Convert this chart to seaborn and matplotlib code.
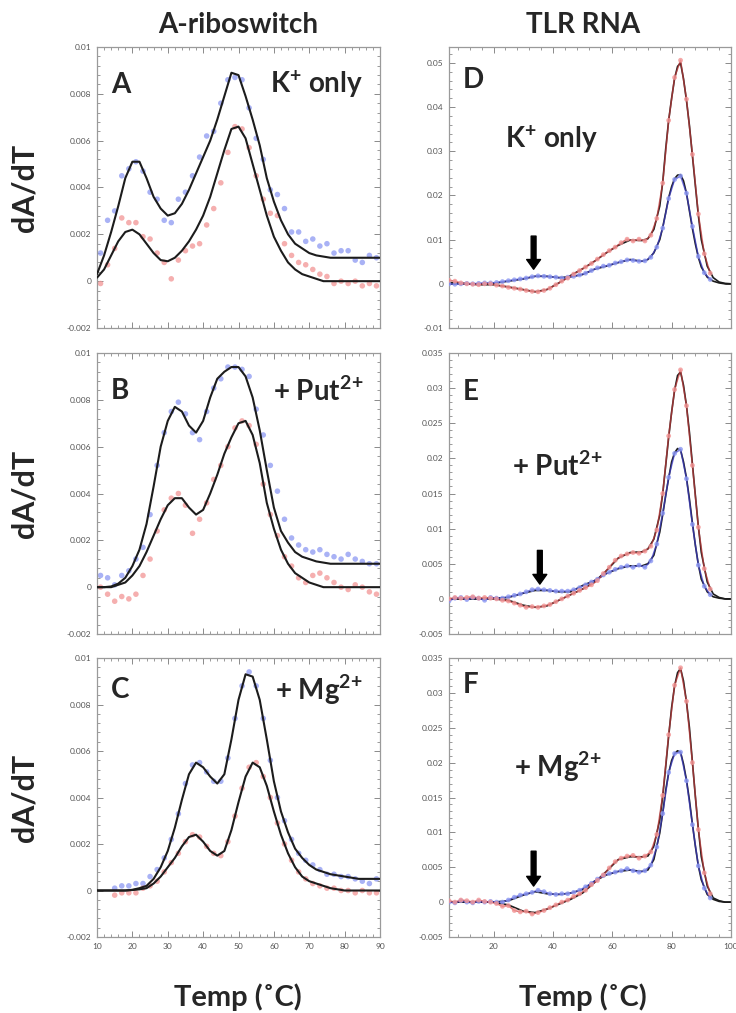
import numpy as np
import pandas as pd
import matplotlib
matplotlib.use("Agg")
import matplotlib.pyplot as plt
import seaborn as sns
from matplotlib.ticker import MultipleLocator, AutoMinorLocator, FuncFormatter

nan = np.nan

# ---------------- left column: A-riboswitch (temperature grids) ----------------
T_FIT_L = list(range(10, 91, 2))
T_DAT_L = list(range(11, 90, 2))

A_fit_blue = [0.0003, 0.0011, 0.0021, 0.0032, 0.0044, 0.0051, 0.0051, 0.0044, 0.0036, 0.0031,
              0.0028, 0.0029, 0.0033, 0.0039, 0.0046, 0.0053, 0.0060, 0.0069, 0.0079, 0.0089,
              0.0088, 0.0079, 0.0069, 0.0058, 0.0044, 0.0034, 0.0026, 0.0020, 0.0016, 0.0014,
              0.0012, 0.0011, 0.00105, 0.0010, 0.0010, 0.0010, 0.0010, 0.0010, 0.0010, 0.0010, 0.0010]
A_fit_red = [0.00015, 0.0005, 0.0011, 0.0017, 0.0021, 0.0022, 0.0020, 0.0016, 0.0012, 0.0009,
             0.00085, 0.0010, 0.0013, 0.0017, 0.0022, 0.0028, 0.0036, 0.0046, 0.0056, 0.0065,
             0.0066, 0.0061, 0.0050, 0.0039, 0.0028, 0.0019, 0.0013, 0.0008, 0.0005, 0.0003,
             0.0002, 0.0001, 0, 0, 0, 0, 0, 0, 0, 0, 0]
A_dat_blue = [0.0012, 0.0026, 0.0030, 0.0045, 0.0048, 0.0051, 0.0047, 0.0038, 0.0035, 0.0026,
              0.0025, 0.0035, 0.0038, 0.0045, 0.0053, 0.0062, 0.0064, 0.0076, 0.0086, 0.0087,
              0.0086, 0.0074, 0.0061, 0.0052, 0.0039, 0.0037, 0.0031, 0.0021, 0.0021, 0.0017,
              0.0018, 0.0015, 0.0016, 0.0012, 0.0013, 0.0013, 0.0009, 0.0008, 0.0011, 0.0010]
A_dat_red = [-0.0001, 0.0007, 0.0014, 0.0027, 0.0025, 0.0025, 0.0019, 0.0018, 0.0012, 0.0008,
             0.0001, 0.0009, 0.0013, 0.0015, 0.0016, 0.0024, 0.0031, 0.0042, 0.0055, 0.0066,
             0.0065, 0.0057, 0.0045, 0.0035, 0.0029, 0.0028, 0.0016, 0.0011, 0.0008, 0.0007,
             0.0005, 0.0003, 0.0002, -0.0001, 0.0, -0.0001, 0.0, -0.0002, -0.0001, -0.0002]

B_fit_blue = [0, 0, 0.00003, 0.00015, 0.0004, 0.0009, 0.0016, 0.0027, 0.0043, 0.0060,
              0.0071, 0.0077, 0.0075, 0.0069, 0.0066, 0.0071, 0.0081, 0.0089, 0.0092, 0.0094,
              0.0094, 0.0090, 0.0081, 0.0067, 0.0050, 0.0034, 0.0024, 0.0019, 0.0015, 0.0013,
              0.0012, 0.0011, 0.00105, 0.0010, 0.0010, 0.0010, 0.0010, 0.0010, 0.0010, 0.0010, 0.0010]
B_fit_red = [0, 0, 0, 0.0001, 0.0002, 0.0005, 0.0009, 0.0015, 0.0022, 0.0029,
             0.0035, 0.0038, 0.0038, 0.0034, 0.0031, 0.0033, 0.0040, 0.0048, 0.0057, 0.0064,
             0.0070, 0.0071, 0.0065, 0.0053, 0.0036, 0.0025, 0.0016, 0.0010, 0.0006, 0.0004,
             0.0002, 0.0001, 0, 0, 0, 0, 0, 0, 0, 0, 0]
B_dat_blue = [0.0005, 0.0004, 0.0001, 0.0005, 0.0007, 0.0012, 0.0017, 0.0031, 0.0052, 0.0066,
              0.0075, 0.0079, 0.0074, 0.0066, 0.0063, 0.0075, 0.0085, 0.0089, 0.0094, 0.0094,
              0.0093, 0.0090, 0.0076, 0.0065, 0.0052, 0.0041, 0.0029, 0.0021, 0.0018, 0.0016,
              0.0015, 0.0016, 0.0014, 0.0013, 0.0012, 0.0014, 0.0012, 0.0011, 0.0010, 0.0010]
B_dat_red = [0.0, -0.0003, -0.0006, -0.0004, -0.0005, -0.0003, 0.0005, 0.0012, 0.0024, 0.0033,
             0.0038, 0.0040, 0.0035, 0.0023, 0.0029, 0.0036, 0.0046, 0.0052, 0.0060, 0.0068,
             0.0071, 0.0069, 0.0061, 0.0044, 0.0031, 0.0022, 0.0013, 0.0009, 0.0004, 0.0002,
             0.0005, 0.0006, 0.0004, 0.0002, 0.0, -0.0001, 0.0001, 0.0, -0.0002, -0.0003]

C_fit_blue = [0, 0, 0, 0, 0, 0.00003, 0.0001, 0.0002, 0.0005, 0.0010,
              0.0017, 0.0027, 0.0039, 0.0050, 0.0055, 0.0053, 0.0049, 0.0046, 0.0050, 0.0065,
              0.0082, 0.0093, 0.0092, 0.0082, 0.0065, 0.0047, 0.0034, 0.0025, 0.0018, 0.0014,
              0.0011, 0.0009, 0.0008, 0.0007, 0.00065, 0.0006, 0.00055, 0.0005, 0.0005, 0.0005, 0.0005]
C_fit_red = [0, 0, 0, 0, 0, 0.00002, 0.00005, 0.0001, 0.0003, 0.0006,
             0.0010, 0.0014, 0.0019, 0.0023, 0.0024, 0.0021, 0.0017, 0.0015, 0.0017, 0.0026,
             0.0038, 0.0049, 0.0055, 0.0053, 0.0045, 0.0034, 0.0024, 0.0016, 0.0010, 0.0006,
             0.0004, 0.0003, 0.0002, 0.0001, 0.00005, 0, 0, 0, 0, 0, 0]
C_dat_blue = [nan, nan, 0.0001, 0.0002, 0.0002, 0.0003, 0.0003, 0.0006, 0.0009, 0.0014,
              0.0022, 0.0033, 0.0046, 0.0054, 0.0055, 0.0051, 0.0047, 0.0047, 0.0057, 0.0074,
              0.0088, 0.0094, 0.0088, 0.0074, 0.0056, 0.0040, 0.0030, 0.0022, 0.0016, 0.0013,
              0.0011, 0.0009, 0.0007, 0.0007, 0.0006, 0.0006, 0.0005, 0.0004, 0.0003, 0.0005]
C_dat_red = [nan, nan, -0.0002, -0.0001, -0.0001, -0.0001, 0.0001, 0.0002, 0.0004, 0.0008,
             0.0012, 0.0016, 0.0021, 0.0024, 0.0023, 0.0019, 0.0016, 0.0015, 0.0021, 0.0032,
             0.0044, 0.0053, 0.0055, 0.0049, 0.0040, 0.0029, 0.0020, 0.0013, 0.0008, 0.0005,
             0.0003, 0.0002, 0.0001, 0.0001, 0.0, 0.0, -0.0001, 0.0, -0.0001, -0.0001]

# ---------------- right column: TLR RNA ----------------
T_FIT_R = [5, 10, 15, 20, 25, 30, 34, 38, 42, 46, 50, 54, 58, 62, 66, 70, 72, 74, 76,
           77, 78, 79, 80, 81, 82, 83, 84, 85, 86, 87, 88, 89, 90, 92, 94, 96, 98, 100]
T_DAT_R = list(range(5, 94, 2))

D_fit_red = [0.0003, 0.0001, -0.0002, -0.0002, -0.0007, -0.0013, -0.0018, -0.0013, 0.0002, 0.0019,
             0.0034, 0.0051, 0.0070, 0.0087, 0.0099, 0.0098, 0.0102, 0.0123, 0.0176,
             0.0230, 0.0305, 0.0370, 0.0420, 0.0465, 0.0492, 0.0500, 0.0464, 0.0415, 0.0358,
             0.0290, 0.0222, 0.0155, 0.0100, 0.0040, 0.0014, 0.0004, 0.0001, 0.0]
D_fit_blue = [0.0, 0.0, 0.0, 0.0001, 0.0006, 0.0011, 0.0017, 0.0017, 0.0014, 0.0016,
              0.0021, 0.0033, 0.0040, 0.0048, 0.0055, 0.0051, 0.0055, 0.0070, 0.0100,
              0.0128, 0.0161, 0.0195, 0.0220, 0.0238, 0.0246, 0.0247, 0.0233, 0.0205, 0.0165,
              0.0125, 0.0090, 0.0060, 0.0038, 0.0015, 0.0006, 0.0002, 0.0, 0.0]
D_dat_red = [0.0008, 0.0006, 0.0002, 0.0, -0.0001, -0.0002, 0.0, 0.0, -0.0003, -0.0005,
             -0.0008, -0.0010, -0.0012, -0.0015, -0.0017, -0.0018, -0.0015, -0.0010, -0.0002, 0.0006,
             0.0013, 0.0022, 0.0030, 0.0038, 0.0046, 0.0056, 0.0066, 0.0075, 0.0083, 0.0093,
             0.0101, 0.0097, 0.0101, 0.0097, 0.0110, 0.0148, 0.0228, 0.0370, 0.0467, 0.0506,
             0.0418, 0.0293, 0.0158, 0.0068, 0.0024]
D_dat_blue = [0.0, -0.0001, 0.0, 0.0001, 0.0, 0.0001, 0.0002, 0.0002, 0.0003, 0.0005,
              0.0007, 0.0009, 0.0011, 0.0013, 0.0016, 0.0018, 0.0017, 0.0016, 0.0015, 0.0013,
              0.0015, 0.0017, 0.0020, 0.0024, 0.0030, 0.0036, 0.0040, 0.0042, 0.0047, 0.0050,
              0.0054, 0.0053, 0.0051, 0.0052, 0.0060, 0.0083, 0.0126, 0.0193, 0.0236, 0.0244,
              0.0205, 0.0130, 0.0062, 0.0025, 0.0010]

E_fit_red = [0, 0, 0, 0, -0.0002, -0.0009, -0.0012, -0.0010, -0.0002, 0.0006,
             0.0014, 0.0024, 0.0040, 0.0058, 0.0066, 0.0067, 0.0071, 0.0085, 0.0119,
             0.0150, 0.0190, 0.0230, 0.0266, 0.0297, 0.0318, 0.0323, 0.0304, 0.0275, 0.0237,
             0.0192, 0.0147, 0.0103, 0.0066, 0.0024, 0.0007, 0.0002, 0.0, 0.0]
E_fit_blue = [0, 0, 0, 0.0001, 0.0002, 0.0008, 0.0012, 0.0012, 0.0010, 0.0010,
              0.0019, 0.0026, 0.0036, 0.0043, 0.0047, 0.0047, 0.0050, 0.0062, 0.0095,
              0.0120, 0.0147, 0.0172, 0.0195, 0.0208, 0.0214, 0.0212, 0.0195, 0.0172, 0.0142,
              0.0108, 0.0076, 0.0049, 0.0028, 0.0010, 0.0003, 0.0001, 0.0, 0.0]
E_dat_red = [0.0, 0.0002, 0.0001, 0.0002, 0.0003, 0.0001, 0.0002, 0.0001, 0.0, -0.0002,
             -0.0003, -0.0006, -0.0009, -0.0012, -0.0011, -0.0012, -0.0010, -0.0008, -0.0004, 0.0,
             0.0004, 0.0008, 0.0012, 0.0016, 0.0020, 0.0026, 0.0036, 0.0045, 0.0055, 0.0061,
             0.0064, 0.0066, 0.0065, 0.0068, 0.0075, 0.0098, 0.0150, 0.0232, 0.0298, 0.0326,
             0.0275, 0.0190, 0.0102, 0.0043, 0.0014]
E_dat_blue = [-0.0003, 0.0001, 0.0002, -0.0001, 0.0002, 0.0001, -0.0002, 0.0002, 0.0001, 0.0001,
              0.0003, 0.0005, 0.0007, 0.0010, 0.0013, 0.0014, 0.0013, 0.0012, 0.0011, 0.0011,
              0.0011, 0.0013, 0.0016, 0.0020, 0.0024, 0.0028, 0.0034, 0.0038, 0.0042, 0.0045,
              0.0047, 0.0045, 0.0048, 0.0045, 0.0054, 0.0078, 0.0122, 0.0173, 0.0207, 0.0213,
              0.0171, 0.0106, 0.0048, 0.0018, 0.0006]

F_fit_red = [0, 0, 0, 0, -0.0004, -0.0013, -0.0015, -0.0010, -0.0003, 0.0004,
             0.0013, 0.0028, 0.0044, 0.0061, 0.0065, 0.0065, 0.0066, 0.0080, 0.0118,
             0.0152, 0.0194, 0.0238, 0.0279, 0.0310, 0.0329, 0.0335, 0.0317, 0.0287, 0.0250,
             0.0201, 0.0151, 0.0105, 0.0065, 0.0023, 0.0006, 0.0002, 0.0, 0.0]
F_fit_blue = [0, 0, 0, 0, 0.0002, 0.0010, 0.0015, 0.0012, 0.0011, 0.0013,
              0.0018, 0.0030, 0.0039, 0.0044, 0.0046, 0.0044, 0.0046, 0.0061, 0.0099,
              0.0128, 0.0160, 0.0185, 0.0203, 0.0213, 0.0217, 0.0215, 0.0198, 0.0175, 0.0146,
              0.0112, 0.0080, 0.0052, 0.0032, 0.0011, 0.0004, 0.0001, 0.0, 0.0]
F_dat_red = [0.0002, 0.0, 0.0003, 0.0002, 0.0, 0.0003, 0.0001, 0.0, -0.0002, -0.0006,
             -0.0005, -0.0012, -0.0014, -0.0013, -0.0017, -0.0015, -0.0012, -0.0008, -0.0004, 0.0,
             0.0003, 0.0008, 0.0012, 0.0017, 0.0025, 0.0031, 0.0039, 0.0049, 0.0058, 0.0063,
             0.0066, 0.0067, 0.0063, 0.0066, 0.0072, 0.0097, 0.0153, 0.0240, 0.0311, 0.0336,
             0.0288, 0.0200, 0.0104, 0.0042, 0.0012]
F_dat_blue = [0.0, -0.0001, 0.0002, 0.0, -0.0001, 0.0001, 0.0, 0.0001, 0.0, 0.0,
              0.0003, 0.0007, 0.0010, 0.0012, 0.0014, 0.0017, 0.0015, 0.0012, 0.0011, 0.0012,
              0.0012, 0.0014, 0.0017, 0.0022, 0.0027, 0.0033, 0.0038, 0.0041, 0.0043, 0.0045,
              0.0048, 0.0045, 0.0043, 0.0045, 0.0053, 0.0079, 0.0127, 0.0186, 0.0213, 0.0215,
              0.0174, 0.0111, 0.0052, 0.0020, 0.0006]

# panel labels / conditions
col_titles = ["A-riboswitch", "TLR RNA"]
letters = ["A", "B", "C", "D", "E", "F"]
cond_labels = [r"K$^{+}$ only", r"+ Put$^{2\!+}$", r"+ Mg$^{2\!+}$"]
y_label = "dA/dT"
x_label = "Temp (˚C)"
arrow_T = [33.5, 35.6, 33.5]
arrow_top = [0.0108, 0.0069, 0.0073]
arrow_tip = [0.0033, 0.0021, 0.0023]

# ---------------- style ----------------
sns.set_theme(style="ticks")
plt.rcParams["font.family"] = ["Lato", "DejaVu Sans"]
plt.rcParams["mathtext.fontset"] = "custom"
plt.rcParams["mathtext.rm"] = "Lato:bold"
plt.rcParams["mathtext.bf"] = "Lato:bold"
plt.rcParams["mathtext.it"] = "Lato:bold:italic"

BLUE_PT = "#8c98f2"
RED_PT = "#f29494"
BLUE_LN = "#3c3ccc"
RED_LN = "#c83c3c"
FIT = "#1c1c1c"

fig = plt.figure(figsize=(7.36, 10.13), dpi=100)

left_x, left_w = 97 / 736, 283 / 736
right_x, right_w = 449 / 736, 282 / 736
rows = [(1 - 328 / 1013, 281 / 1013), (1 - 634 / 1013, 281 / 1013), (1 - 937 / 1013, 279 / 1013)]

fmt = FuncFormatter(lambda v, p: "%g" % round(v, 6))


def style_axes(ax, xmaj, ymaj, show_x):
    ax.xaxis.set_major_locator(MultipleLocator(xmaj))
    ax.xaxis.set_minor_locator(AutoMinorLocator(5))
    ax.yaxis.set_major_locator(MultipleLocator(ymaj))
    ax.yaxis.set_minor_locator(AutoMinorLocator(5))
    ax.yaxis.set_major_formatter(fmt)
    ax.xaxis.set_major_formatter(fmt)
    ax.tick_params(which="both", direction="in", top=True, right=True, color="#8a8a8a",
                   labelsize=6, labelcolor="#555555", pad=4)
    ax.tick_params(which="major", length=4, width=0.7)
    ax.tick_params(which="minor", length=2, width=0.6)
    if not show_x:
        ax.tick_params(axis="x", labelbottom=False)
    for s in ax.spines.values():
        s.set_color("#9a9a9a")
        s.set_linewidth(0.9)
    ax.set_xlabel("")
    ax.set_ylabel("")


left_sets = [
    (A_fit_blue, A_fit_red, A_dat_blue, A_dat_red),
    (B_fit_blue, B_fit_red, B_dat_blue, B_dat_red),
    (C_fit_blue, C_fit_red, C_dat_blue, C_dat_red),
]
right_sets = [
    (D_fit_blue, D_fit_red, D_dat_blue, D_dat_red),
    (E_fit_blue, E_fit_red, E_dat_blue, E_dat_red),
    (F_fit_blue, F_fit_red, F_dat_blue, F_dat_red),
]
right_ylims = [(-0.01, 0.0536), (-0.005, 0.035), (-0.005, 0.035)]
right_ymaj = [0.01, 0.005, 0.005]

for i, (yb, h) in enumerate(rows):
    # ---- left panel ----
    ax = fig.add_axes([left_x, yb, left_w, h])
    fb, fr, db, dr = left_sets[i]
    dat = pd.DataFrame({"T": T_DAT_L, "blue": db, "red": dr})
    sns.scatterplot(data=dat, x="T", y="blue", ax=ax, color=BLUE_PT, s=16, alpha=0.75,
                    edgecolor="none", zorder=2)
    sns.scatterplot(data=dat, x="T", y="red", ax=ax, color=RED_PT, s=16, alpha=0.75,
                    edgecolor="none", zorder=2)
    fit = pd.DataFrame({"T": T_FIT_L, "blue": fb, "red": fr})
    sns.lineplot(data=fit, x="T", y="blue", ax=ax, color=FIT, lw=1.5, zorder=3)
    sns.lineplot(data=fit, x="T", y="red", ax=ax, color=FIT, lw=1.5, zorder=3)
    ax.set_xlim(10, 90)
    ax.set_ylim(-0.002, 0.01)
    style_axes(ax, 10, 0.002, show_x=(i == 2))
    ax.text(0.05, [0.865, 0.865, 0.885][i], letters[i], transform=ax.transAxes,
            fontsize=20, fontweight="bold", va="center", ha="left")
    ax.text(0.94, [0.865, 0.865, 0.885][i], cond_labels[i], transform=ax.transAxes,
            fontsize=20, fontweight="bold", va="center", ha="right")
    fig.text(25 / 736, yb + h / 2, y_label, rotation=90, fontsize=22, fontweight="bold",
             ha="center", va="center")

    # ---- right panel ----
    ax = fig.add_axes([right_x, yb, right_w, h])
    fb, fr, db, dr = right_sets[i]
    fit = pd.DataFrame({"T": T_FIT_R, "blue": fb, "red": fr})
    sns.lineplot(data=fit, x="T", y="blue", ax=ax, color=FIT, lw=1.2, zorder=2)
    sns.lineplot(data=fit, x="T", y="red", ax=ax, color=FIT, lw=1.2, zorder=2)
    dat = pd.DataFrame({"T": T_DAT_R, "blue": db, "red": dr})
    sns.lineplot(data=dat, x="T", y="blue", ax=ax, color=BLUE_LN, lw=1.1, alpha=0.7, zorder=3)
    sns.lineplot(data=dat, x="T", y="red", ax=ax, color=RED_LN, lw=1.1, alpha=0.7, zorder=3)
    sns.scatterplot(data=dat, x="T", y="blue", ax=ax, color=BLUE_PT, s=12, alpha=0.8,
                    edgecolor="none", zorder=4)
    sns.scatterplot(data=dat, x="T", y="red", ax=ax, color=RED_PT, s=12, alpha=0.8,
                    edgecolor="none", zorder=4)
    ax.set_xlim(5, 100)
    ax.set_ylim(*right_ylims[i])
    style_axes(ax, 20, right_ymaj[i], show_x=(i == 2))
    ax.text(0.05, [0.883, 0.862, 0.904][i], letters[i + 3], transform=ax.transAxes,
            fontsize=20, fontweight="bold", va="center", ha="left")
    ax.text([0.362, 0.383, 0.387][i], [0.67, 0.597, 0.61][i], cond_labels[i],
            transform=ax.transAxes, fontsize=20, fontweight="bold", va="center", ha="center")
    ax.annotate("", xy=(arrow_T[i], arrow_tip[i]), xytext=(arrow_T[i], arrow_top[i]),
                arrowprops=dict(facecolor="black", edgecolor="black", width=3.5,
                                headwidth=10, headlength=7, shrink=0), zorder=6)

# column titles and x labels
fig.text(238 / 736, 1 - 25 / 1013, col_titles[0], fontsize=20, fontweight="bold",
         ha="center", va="center")
fig.text(583 / 736, 1 - 25 / 1013, col_titles[1], fontsize=20, fontweight="bold",
         ha="center", va="center")
fig.text(238 / 736, 1 - 997 / 1013, x_label, fontsize=21, fontweight="bold",
         ha="center", va="center")
fig.text(583 / 736, 1 - 997 / 1013, x_label, fontsize=21, fontweight="bold",
         ha="center", va="center")

fig.savefig("out.png", dpi=100, facecolor="white")
